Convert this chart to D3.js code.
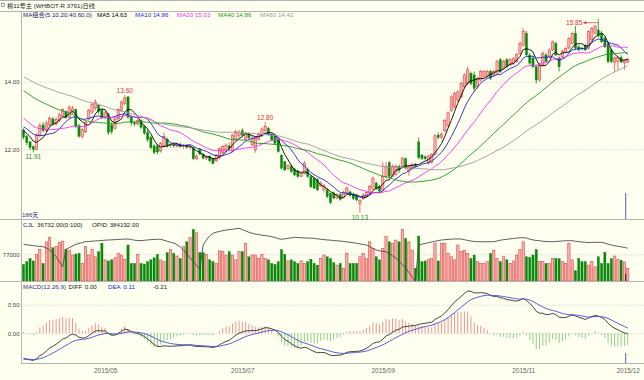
<!DOCTYPE html>
<html><head><meta charset="utf-8">
<script src="https://cdn.jsdelivr.net/npm/d3@7"></script>
<style>
html,body{margin:0;padding:0;background:#fffff0;}
svg{display:block;font-family:"Liberation Sans","Noto Sans CJK SC",Arial,sans-serif;}
</style></head>
<body><svg id="chart" width="644" height="380"></svg>
<script>
// ---------------- DATA ----------------
const title = "棉11号主 (WHBOT-R 3791)日线";
const open = [12.57,12.38,12.22,12.08,12.00,12.40,12.72,12.55,12.72,12.90,
12.75,12.85,12.98,13.12,12.95,13.12,13.18,12.70,12.38,12.52,
12.90,13.10,13.22,13.30,13.15,12.95,13.02,12.72,12.62,12.90,
13.15,13.35,13.55,12.95,12.78,12.75,12.85,12.68,12.50,12.35,
12.10,12.10,11.95,12.10,12.30,12.12,12.14,12.10,12.15,12.08,
12.12,12.06,12.05,11.72,12.00,11.86,11.74,11.80,11.72,11.66,
11.75,11.90,11.98,12.10,11.95,12.28,12.40,12.55,12.30,12.45,
12.13,11.98,12.30,12.40,12.55,12.62,12.42,12.42,12.28,11.83,
11.63,11.42,11.50,11.42,11.36,11.20,11.29,11.40,11.19,11.14,
11.10,10.92,10.80,10.80,10.70,10.70,10.56,10.66,10.58,10.70,
10.74,10.68,10.64,10.40,10.55,10.62,10.70,10.85,11.00,10.90,
10.80,11.19,11.60,11.20,11.25,11.50,11.49,11.72,11.35,11.42,
11.55,12.22,11.83,11.78,11.58,11.62,11.85,12.42,12.35,12.55,
12.70,13.15,13.25,13.45,13.55,13.85,13.95,14.25,14.20,13.85,
14.05,14.15,14.15,14.30,14.20,14.25,14.65,14.40,14.65,14.50,
14.55,14.60,14.84,15.08,15.43,14.79,14.70,14.44,14.05,14.50,
14.79,14.74,14.94,15.13,14.70,14.74,14.88,15.00,15.13,15.43,
15.03,14.99,15.08,14.99,15.25,15.43,15.53,15.43,15.28,15.13,
14.94,14.58,14.60,14.72,14.56,14.58];
const high = [12.62,12.42,12.25,12.12,12.48,12.78,12.80,12.85,12.98,12.95,
12.95,13.08,13.22,13.15,13.30,13.28,13.20,12.75,12.62,12.85,
13.20,13.38,13.48,13.35,13.22,13.15,13.08,12.80,12.92,13.22,
13.45,13.60,13.58,13.00,12.85,12.92,12.88,12.72,12.58,12.40,
12.15,12.15,12.22,12.50,12.35,12.18,12.20,12.18,12.20,12.15,
12.15,12.12,12.08,11.85,12.03,11.90,11.82,11.82,11.74,11.86,
12.06,12.12,12.18,12.20,12.45,12.58,12.58,12.62,12.50,12.50,
12.40,12.38,12.50,12.65,12.80,12.66,12.48,12.45,12.30,11.85,
11.66,11.55,11.55,11.45,11.40,11.32,11.65,11.45,11.22,11.18,
11.15,11.05,10.98,10.85,10.72,10.75,10.70,10.70,10.78,10.90,
10.78,10.72,10.68,10.52,10.70,10.75,10.95,11.20,11.05,10.95,
11.62,11.62,11.65,11.55,11.55,11.55,11.78,11.76,11.55,11.60,
11.60,12.35,11.86,11.82,11.84,11.88,12.45,12.50,12.50,12.90,
13.12,13.60,13.70,13.75,14.00,14.25,14.45,14.30,14.30,14.15,
14.35,14.35,14.35,14.35,14.35,14.65,14.70,14.65,14.70,14.70,
14.72,14.85,15.18,15.58,15.50,14.85,14.75,14.50,14.55,14.90,
14.85,14.98,15.22,15.18,14.75,14.95,15.02,15.32,15.48,15.65,
15.08,15.03,15.12,15.52,15.62,15.68,15.85,15.50,15.32,15.18,
14.98,14.75,14.78,14.78,14.66,14.72];
const low = [12.30,12.12,11.98,11.91,11.98,12.35,12.50,12.50,12.68,12.70,
12.70,12.80,12.95,12.90,12.92,13.05,12.62,12.35,12.32,12.48,
12.85,13.05,13.15,13.05,12.90,12.88,12.42,12.45,12.58,12.85,
13.10,13.30,12.90,12.70,12.68,12.70,12.60,12.42,12.22,12.00,
11.85,11.85,11.90,12.05,12.05,12.05,12.05,12.05,12.05,12.02,
12.02,12.00,11.68,11.68,11.82,11.70,11.68,11.62,11.55,11.62,
11.70,11.86,11.92,11.98,11.92,12.25,12.35,12.38,12.28,12.30,
12.10,11.90,12.25,12.35,12.50,12.42,12.25,12.15,11.90,11.40,
11.36,11.40,11.30,11.20,11.15,11.18,11.25,11.15,10.85,10.82,
10.76,10.88,10.72,10.56,10.38,10.52,10.52,10.48,10.55,10.68,
10.60,10.50,10.46,10.13,10.50,10.58,10.66,10.80,10.80,10.72,
10.76,11.15,11.15,11.18,11.22,11.30,11.45,11.40,11.22,11.38,
11.45,11.70,11.68,11.68,11.55,11.58,11.82,12.30,12.30,12.50,
12.65,13.10,13.20,13.40,13.50,13.80,13.90,13.90,13.70,13.80,
14.00,14.10,14.10,14.05,14.15,14.20,14.25,14.35,14.40,14.45,
14.50,14.55,14.80,15.05,14.75,14.50,14.40,13.95,14.00,14.45,
14.55,14.70,14.90,14.75,14.30,14.70,14.85,14.95,15.10,14.95,
14.90,14.93,14.90,14.95,15.20,15.40,15.30,15.15,15.00,14.55,
14.55,14.30,14.35,14.55,14.35,14.55];
const close = [12.35,12.20,12.05,12.00,12.42,12.70,12.55,12.78,12.92,12.75,
12.88,13.02,13.18,12.95,13.25,13.20,12.68,12.38,12.58,12.80,
13.15,13.32,13.40,13.12,12.95,13.08,12.50,12.52,12.88,13.18,
13.40,13.52,12.95,12.78,12.75,12.85,12.65,12.48,12.28,12.05,
11.90,11.92,12.18,12.38,12.10,12.14,12.10,12.15,12.08,12.12,
12.06,12.08,11.72,11.80,11.86,11.74,11.78,11.66,11.58,11.83,
12.03,12.08,12.12,12.02,12.42,12.52,12.50,12.42,12.46,12.34,
12.32,12.32,12.45,12.60,12.68,12.45,12.28,12.18,11.93,11.44,
11.39,11.52,11.34,11.24,11.20,11.28,11.59,11.20,10.89,10.85,
10.80,11.00,10.92,10.60,10.42,10.56,10.66,10.52,10.72,10.85,
10.64,10.54,10.50,10.48,10.65,10.72,10.90,11.14,10.84,10.76,
11.19,11.49,11.20,11.50,11.50,11.38,11.73,11.45,11.50,11.55,
11.50,11.75,11.73,11.72,11.80,11.85,12.40,12.35,12.45,12.85,
13.08,13.55,13.65,13.70,13.95,14.20,14.35,13.95,13.80,14.10,
14.30,14.30,14.30,14.10,14.30,14.60,14.30,14.60,14.45,14.65,
14.68,14.80,15.13,15.48,14.79,14.55,14.44,14.05,14.50,14.84,
14.60,14.94,15.18,14.79,14.44,14.90,14.98,15.28,15.43,14.99,
14.94,14.97,14.94,15.48,15.58,15.63,15.35,15.18,15.03,14.59,
14.59,14.70,14.72,14.58,14.62,14.66];
// closes of the 60 sessions before the window (needed for MA / MACD)
const priorClose = [15.40,15.35,15.30,15.25,15.20,15.15,15.10,15.05,15.00,15.00,
14.95,14.95,14.90,14.90,14.85,14.85,14.80,14.80,14.75,14.75,
14.75,14.70,14.70,14.65,14.70,14.65,14.60,14.65,14.60,14.55,
14.60,14.55,14.50,14.55,14.50,14.45,14.50,14.45,14.40,14.35,
14.10,13.90,13.70,13.50,13.35,13.20,13.05,12.95,12.85,12.70,
12.65,12.80,12.85,12.75,12.80,12.70,12.60,12.55,12.65,12.60];
const volume = [48000,56000,65000,58000,77000,91000,51000,113000,125000,96000,
99000,111000,115000,91000,89000,75000,78000,80000,51000,99000,
75000,91000,70000,85000,109000,61000,58000,61000,67000,80000,
75000,63000,104000,51000,51000,77000,51000,49000,56000,61000,
67000,77000,61000,56000,82000,91000,80000,72000,65000,99000,
113000,125000,149000,139000,82000,82000,77000,61000,56000,51000,
87000,85000,75000,85000,75000,61000,85000,85000,109000,70000,
75000,75000,65000,77000,65000,61000,51000,48000,56000,91000,
77000,58000,61000,56000,51000,58000,51000,56000,63000,51000,
46000,65000,75000,70000,65000,53000,46000,51000,37000,80000,
51000,51000,51000,70000,80000,65000,113000,94000,70000,61000,
94000,128000,113000,109000,118000,113000,149000,123000,113000,89000,
37000,130000,56000,58000,63000,65000,109000,58000,109000,109000,
80000,70000,61000,104000,85000,89000,80000,65000,75000,56000,
51000,51000,56000,80000,89000,65000,56000,70000,61000,51000,
58000,75000,91000,113000,70000,68000,75000,91000,56000,56000,
51000,51000,65000,65000,65000,56000,51000,109000,61000,30000,
65000,56000,56000,46000,56000,41000,70000,51000,83000,51000,
65000,72000,63000,60000,55000,36732];
const openInterest = [398500,397000,395000,393200,391500,390500,389400,384000,377000,365000,
352000,333000,314000,380000,385700,392000,398000,402000,405000,408300,
409000,410500,411000,412000,413000,414000,414700,415500,416000,417000,
417500,418000,418500,416500,414000,413000,412100,413500,415000,416000,
417000,417400,417400,414000,410000,406000,403400,397000,388000,377000,
362000,347000,332800,318000,304200,395800,415000,430000,440000,444000,
447000,450000,452000,454000,455100,457000,458900,454000,449000,444000,
440000,437000,435000,433000,431000,429800,427000,424000,420000,417400,
419000,421000,423000,424900,424000,423000,422500,422000,421500,421100,
419000,417400,416000,415000,414000,412500,411500,410900,409000,407500,
406000,404500,402000,400000,398000,395800,390000,383000,377000,374000,
372000,370600,363000,355000,346800,335000,322000,309100,292000,275000,
258000,395800,399000,402000,404500,407000,410000,412500,414700,416000,
417000,418000,418500,418500,418500,416000,413000,411000,409000,408300,
408300,408000,408000,408300,408300,411000,414000,416000,417400,419000,
420500,422000,423000,423400,422000,418000,415000,413000,412100,410000,
409000,408500,408300,409000,410000,411000,412000,412100,412100,410000,
408500,407000,406000,405000,405500,406000,406000,406000,403000,399000,
395800,393000,391000,389000,386500,384192];
const tickLabels = ["2015/05","2015/07","2015/09","2015/11","2015/12"];
const tickIndex = [25,67,110,153,185];
const priceTicks = [12,14];
const volumeTicks = [77000];
const macdTicks = [0,0.5];
const maPeriods = [5,10,20,40,60];
const maNames = ["MA5","MA10","MA20","MA40","MA60"];
const maLegendValues = ["14.63","14.86","15.03","14.86","14.42"];
const markIndex = [3,31,74,103,176];
const markKind = ["low","high","high","low","max"];
const volLegend = ["CJL","36732.00(0:100)","OPID","384192.00"];
const macdLegend = ["MACD(12,26,9)","DIFF","0.00","DEA","0.11","-0.21"];
const daysLabel = "186天";

// ---------------- DERIVED INDICATORS ----------------
const N = close.length, P = priorClose.length;
const full = priorClose.concat(close);
function sma(n){return close.map((_,i)=>{let s=0;for(let k=P+i-n+1;k<=P+i;k++)s+=full[k];return s/n;});}
function ema(arr,n){const a=2/(n+1);let e=arr[0];return arr.map((v,i)=>{e=i===0?v:a*v+(1-a)*e;return e;});}
const e12=ema(full,12), e26=ema(full,26);
const diffFull=full.map((_,i)=>e12[i]-e26[i]);
const deaFull=ema(diffFull,9);
const diff=diffFull.slice(P), dea=deaFull.slice(P);
const hist=diff.map((d,i)=>2*(d-dea[i]));

// ---------------- DRAW ----------------
const W=644,H=380, L=21, R=644;
const svg=d3.select("#chart");
svg.append("rect").attr("width",W).attr("height",H).attr("fill","#fffff0");

const x=d3.scaleLinear().domain([0,N-1]).range([23.5,627.7]);
const yP=d3.scaleLinear().domain([12,14]).range([149.3,81.7]);
const yV=d3.scaleLinear().domain([0,77000]).range([281,254.3]);
const yOI=d3.scaleLinear().domain([260000,460000]).range([281,228]);
const yM=d3.scaleLinear().domain([0,0.5]).range([333.3,304.7]);

const defs=svg.append("defs");
function clip(id,y0,y1){defs.append("clipPath").attr("id",id).append("rect").attr("x",L+0.5).attr("y",y0).attr("width",R-L).attr("height",y1-y0);}
clip("cp",11.5,219);clip("cv",219.5,281);clip("cm",282,363);

// frame lines
const gray="#b4b4b4";
[[0,0.5,W,0.5],[0,11.5,W,11.5],[0,219.5,W,219.5],[0,281.5,W,281.5],[L,363.5,W,363.5],[L+0.5,11.5,L+0.5,363.5]]
 .forEach(a=>svg.append("line").attr("x1",a[0]).attr("y1",a[1]).attr("x2",a[2]).attr("y2",a[3]).attr("stroke",gray).attr("stroke-width",1));

const fs=6.2;
function gridAxis(scale,ticks,fmt){
  const g=svg.append("g").attr("transform",`translate(${L+0.5},0)`)
    .call(d3.axisLeft(scale).tickValues(ticks).tickFormat(fmt).tickSize(-(R-L)).tickPadding(2));
  g.select(".domain").remove();
  g.selectAll(".tick line").attr("stroke","#c4c4c4").attr("stroke-dasharray","1,2");
  g.selectAll(".tick text").attr("font-size",6).attr("fill","#444").attr("font-family","Liberation Sans, Arial, sans-serif");
  return g;
}
gridAxis(yP,priceTicks,d3.format(".2f"));
gridAxis(yV,volumeTicks,d3.format("d"));
gridAxis(yM,macdTicks,d3.format(".2f"));

// x axis labels
const xa=svg.append("g").attr("transform","translate(0,363.5)")
  .call(d3.axisBottom(x).tickValues(tickIndex).tickFormat((d,i)=>tickLabels[i]).tickSize(0).tickPadding(5));
xa.select(".domain").remove();
xa.selectAll(".tick text").attr("font-size",6.5).attr("fill","#666").attr("font-family","Liberation Sans, Arial, sans-serif");

// title and legends
svg.append("rect").attr("x",1.5).attr("y",3.5).attr("width",3).attr("height",3).attr("fill","none").attr("stroke","#888").attr("stroke-width",0.8);
function txt(t,xx,yy,c,anchor,size){return svg.append("text").attr("x",xx).attr("y",yy).attr("font-size",size||fs).attr("fill",c).attr("text-anchor",anchor||"start").text(t);}
// a legend row: each item at its place, pushed right if it would touch the previous one
function legendRow(items,xs,colors,yy){
  let end=0;
  items.forEach((t,k)=>{
    const xx=Math.max(xs[k],end+2.5);
    const el=txt(t,xx,yy,colors[k]);
    end=xx+el.node().getComputedTextLength();
  });
}
txt(title,7,8,"#222");
const maColors=["#000000","#1f1fd6","#f030f0","#1e961e","#9a9a9a"];
legendRow(["MA组合(5,10,20,40,60,0)"].concat(maNames.map((n,k)=>n+" "+maLegendValues[k])),
  [23,97,135,177,218,260],["#22226e"].concat(maColors),17);
txt(daysLabel,22,216.5,"#30307a");
legendRow(volLegend,[23,37,92,107],["#30307a","#222","#222","#222"],227);
legendRow(macdLegend,[23,68,82,108,123,153],["#30307a","#222","#222","#2424c8","#2424c8","#222"],288.5);

// price panel
const gp=svg.append("g").attr("clip-path","url(#cp)");
const upS="#e04848", upF="#f7b4ae", dnC="#0b880b";
const bw=2.3;
close.forEach((c,i)=>{
  const up=c>=open[i], xi=x(i), col=up?upS:dnC;
  gp.append("line").attr("x1",xi).attr("x2",xi).attr("y1",yP(high[i])).attr("y2",yP(low[i])).attr("stroke",col).attr("stroke-width",0.8);
  const y0=yP(Math.max(open[i],c)), y1=yP(Math.min(open[i],c));
  gp.append("rect").attr("x",xi-bw/2).attr("y",y0).attr("width",bw).attr("height",Math.max(0.8,y1-y0))
    .attr("fill",up?upF:dnC).attr("stroke",col).attr("stroke-width",up?0.6:0.3);
});
maPeriods.forEach((n,k)=>{
  const vals=sma(n);
  gp.append("path").datum(vals).attr("fill","none").attr("stroke",maColors[k]).attr("stroke-width",0.9)
    .attr("d",d3.line().x((d,i)=>x(i)).y(d=>yP(d)));
});
// extreme marks
markIndex.forEach((i,k)=>{
  const kind=markKind[k];
  if(kind==="high"){
    txt(high[i].toFixed(2),x(i),yP(high[i])-2,"#e03030","middle",6.5);
  } else if(kind==="low"){
    txt(low[i].toFixed(2),x(i),yP(low[i])+7,"#2a8a2a","middle",6.5);
  } else {
    const yy=yP(high[i]);
    txt(high[i].toFixed(2),x(i)-16,yy+6,"#e03030","end",6.5);
    svg.append("line").attr("x1",x(i)-15).attr("x2",x(i)).attr("y1",yy+3.5).attr("y2",yy+3.5).attr("stroke","#e03030").attr("stroke-width",0.7);
    svg.append("path").attr("d",`M${x(i)-15},${yy+3.5} l3,-1.6 l0,3.2 z`).attr("fill","#e03030");
  }
});
// cursor
const cx=x(N-1)-2;
svg.append("line").attr("x1",cx).attr("x2",cx).attr("y1",193).attr("y2",219).attr("stroke","#5a5aa8").attr("stroke-width",1);

// volume panel
const gv=svg.append("g").attr("clip-path","url(#cv)");
volume.forEach((v,i)=>{
  const up=close[i]>=open[i];
  gv.append("rect").attr("x",x(i)-bw/2).attr("y",yV(v)).attr("width",bw).attr("height",yV(0)-yV(v))
    .attr("fill",up?upF:dnC).attr("stroke",up?upS:dnC).attr("stroke-width",up?0.6:0.3);
});
gv.append("path").datum(openInterest).attr("fill","none").attr("stroke","#4a4a4a").attr("stroke-width",0.9)
  .attr("d",d3.line().x((d,i)=>x(i)).y(d=>yOI(d)));
gv.append("line").attr("x1",cx).attr("x2",cx).attr("y1",274).attr("y2",281).attr("stroke","#202040").attr("stroke-width",1);

// MACD panel
const gm=svg.append("g").attr("clip-path","url(#cm)");
hist.forEach((h,i)=>{
  gm.append("line").attr("x1",x(i)).attr("x2",x(i)).attr("y1",yM(0)).attr("y2",yM(h))
    .attr("stroke",h>=0?"#e47a7a":"#72c072").attr("stroke-width",0.8);
});
gm.append("path").datum(diff).attr("fill","none").attr("stroke","#303030").attr("stroke-width",0.9)
  .attr("d",d3.line().x((d,i)=>x(i)).y(d=>yM(d)));
gm.append("path").datum(dea).attr("fill","none").attr("stroke","#4a4ad8").attr("stroke-width",0.9)
  .attr("d",d3.line().x((d,i)=>x(i)).y(d=>yM(d)));
svg.append("line").attr("x1",cx).attr("x2",cx).attr("y1",353).attr("y2",363).attr("stroke","#5a5aa8").attr("stroke-width",1);
</script>
</body></html>
